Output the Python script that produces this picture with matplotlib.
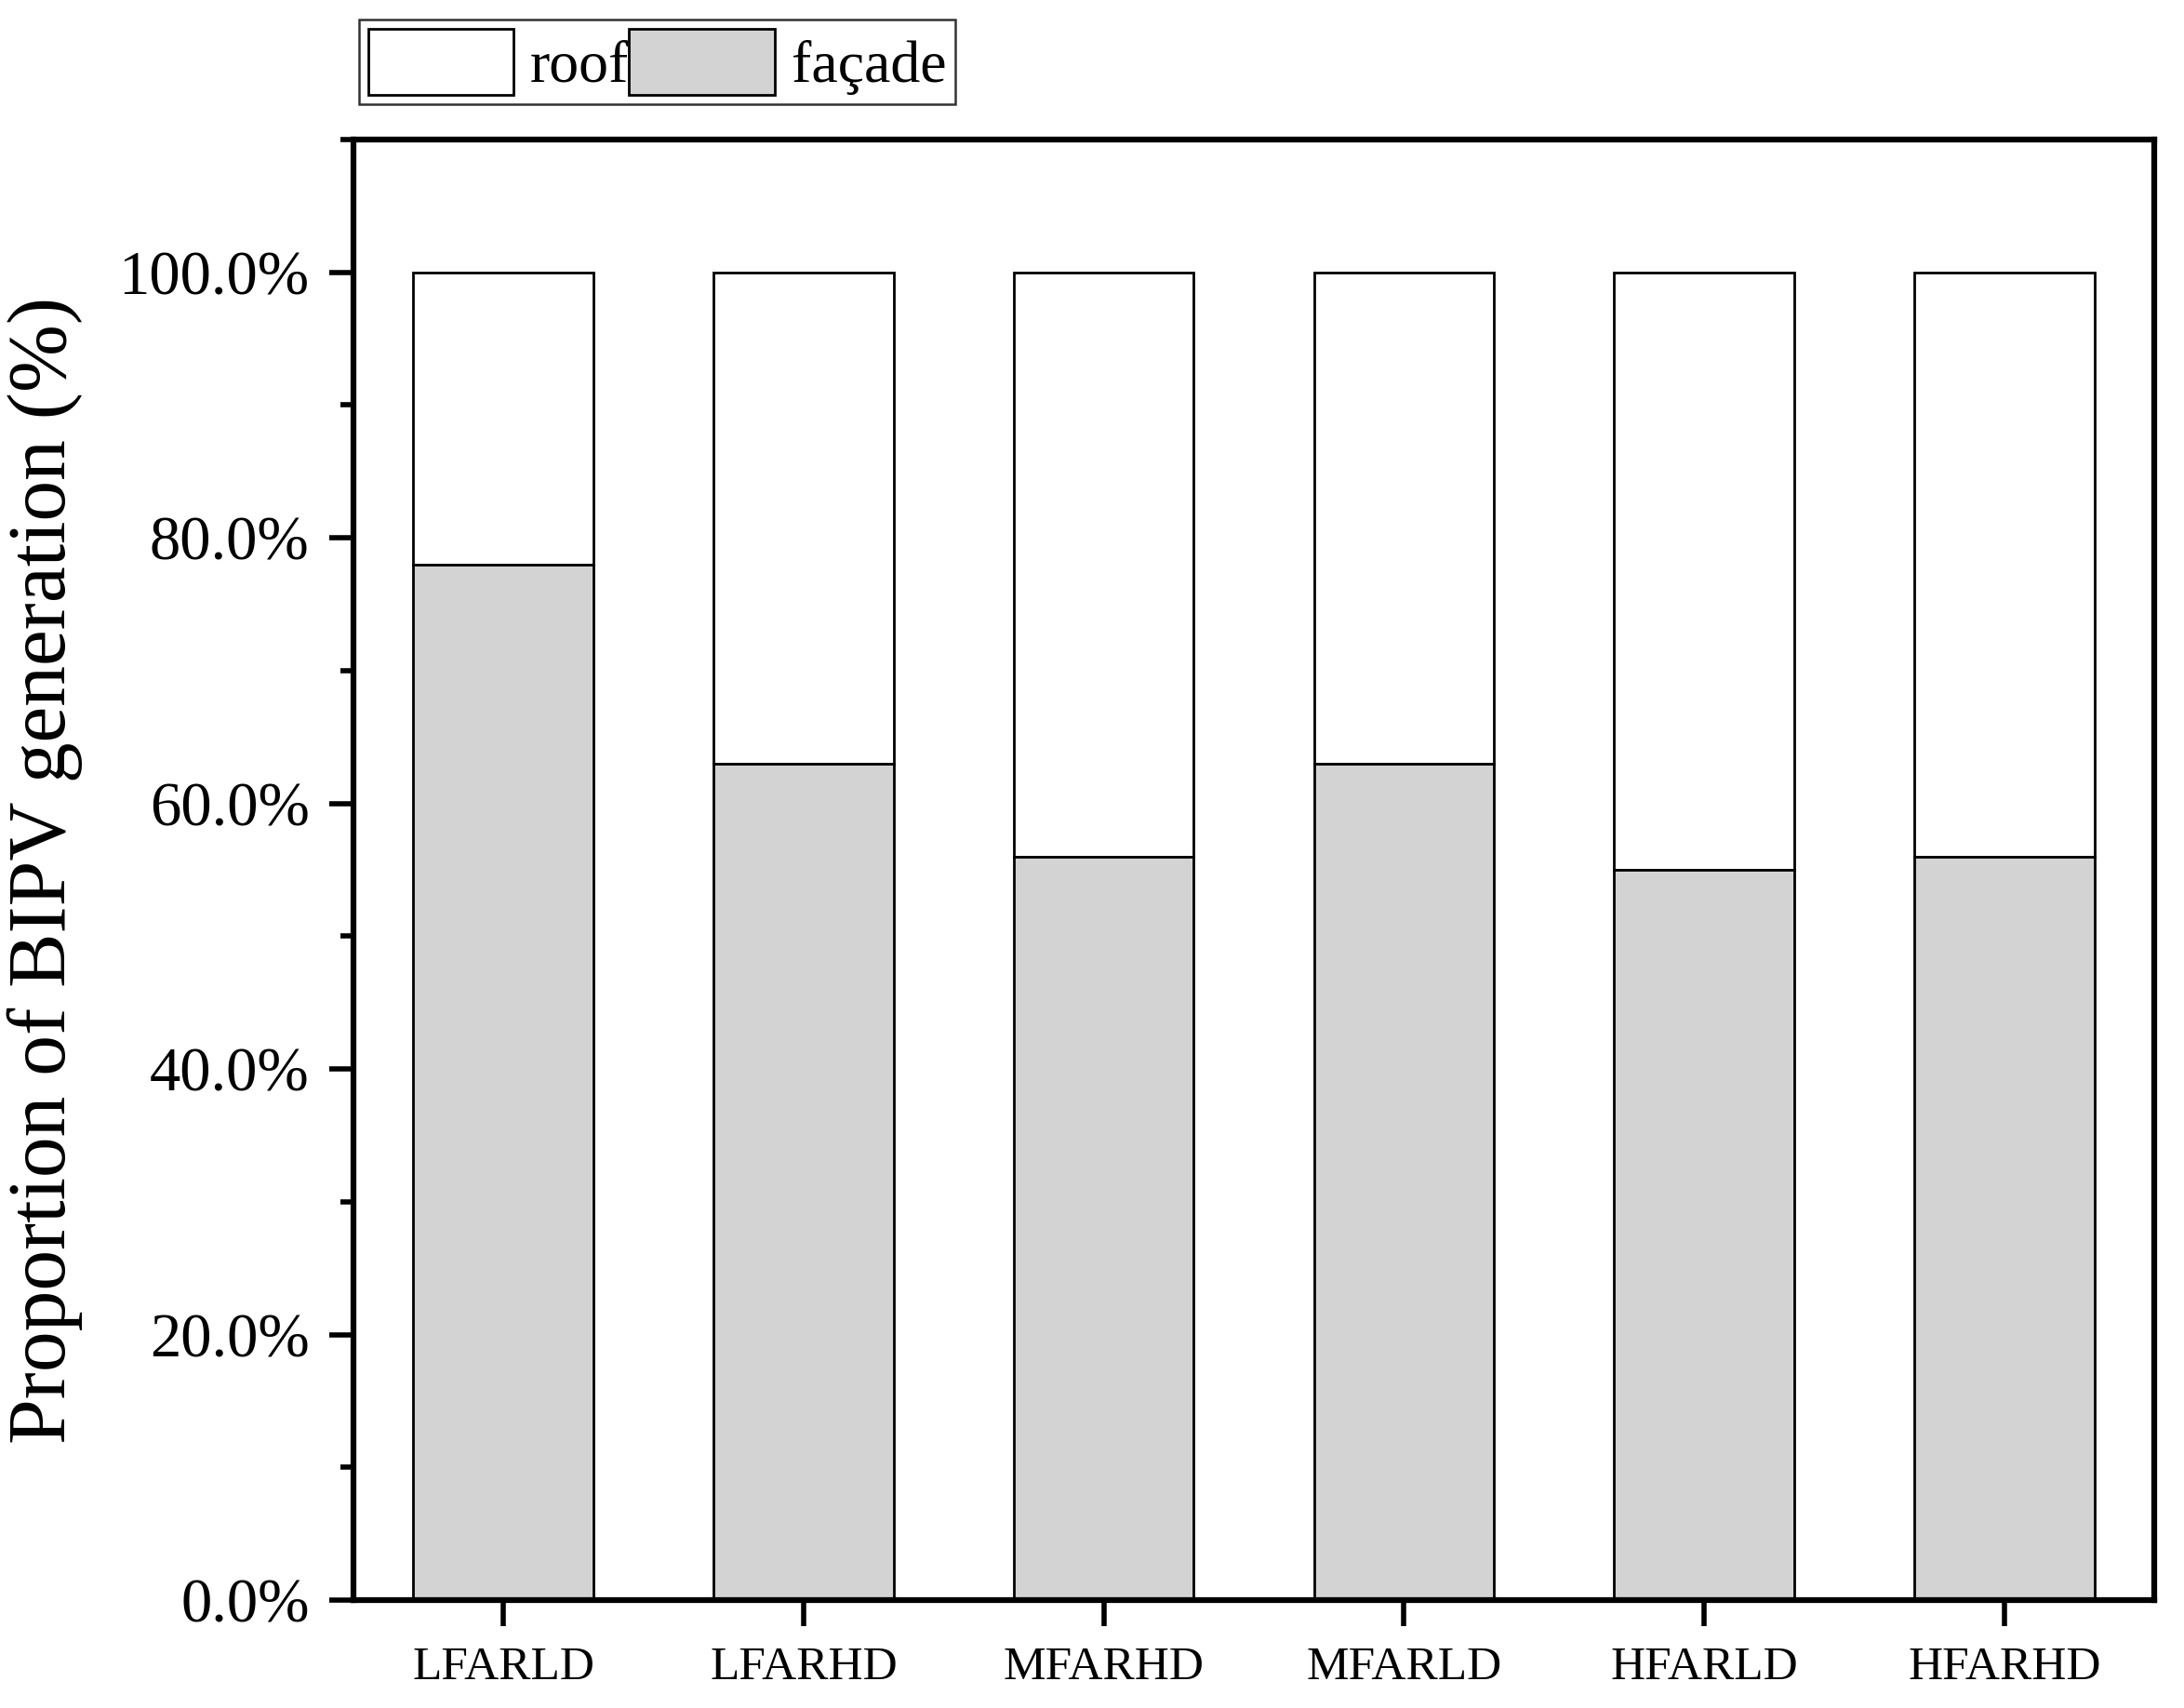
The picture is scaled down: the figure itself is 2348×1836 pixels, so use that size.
import matplotlib
matplotlib.use("Agg")
import matplotlib.pyplot as plt
from matplotlib.ticker import MultipleLocator, PercentFormatter

# values (percent of total BIPV generation)
categories = ["LFARLD", "LFARHD", "MFARHD", "MFARLD", "HFARLD", "HFARHD"]
facade = [78, 63, 56, 63, 55, 56]
roof = [22, 37, 44, 37, 45, 44]

plt.rcParams["font.family"] = ["Liberation Serif", "DejaVu Serif"]

fig = plt.figure(figsize=(23.48, 18.36), dpi=100)
ax = fig.add_axes([0.1618, 0.0632, 0.8246, 0.8551])

x = list(range(1, len(categories) + 1))
bar_w = 0.6
h_roof = ax.bar(x, roof, bar_w, bottom=facade, color="white",
                edgecolor="black", linewidth=2.0, label="roof")
h_fac = ax.bar(x, facade, bar_w, color="#d3d3d3",
               edgecolor="black", linewidth=2.0, label="façade")

ax.set_xlim(0.5, 6.5)
ax.set_ylim(0, 110)
ax.set_xticks(x)
ax.set_xticklabels(categories, fontsize=37)
ax.yaxis.set_major_locator(MultipleLocator(20))
ax.yaxis.set_minor_locator(MultipleLocator(10))
ax.yaxis.set_major_formatter(PercentFormatter(decimals=1))
ax.tick_params(axis="y", which="major", labelsize=48, direction="out",
               length=19, width=4, pad=15)
ax.tick_params(axis="y", which="minor", direction="out", length=10, width=4)
ax.tick_params(axis="x", which="major", direction="out", length=20, width=4,
               pad=16)

for side in ["left", "right", "top", "bottom"]:
    ax.spines[side].set_linewidth(4.5)

ax.set_ylabel("Proportion of BIPV generation (%)", fontsize=63)
ax.yaxis.set_label_coords(-0.15, 0.5)

leg = fig.legend(handles=[h_roof, h_fac], labels=["roof", "façade"],
                 loc="upper left", bbox_to_anchor=(386 / 2348, 1 - 21 / 1836),
                 ncol=2, fontsize=46, frameon=True, fancybox=False,
                 edgecolor="black", handlelength=2.45, handleheight=1.35,
                 handletextpad=0.28, columnspacing=0.0, borderpad=0.15,
                 borderaxespad=0)
leg.get_frame().set_linewidth(1.8)

fig.savefig("out.png", dpi=100)
